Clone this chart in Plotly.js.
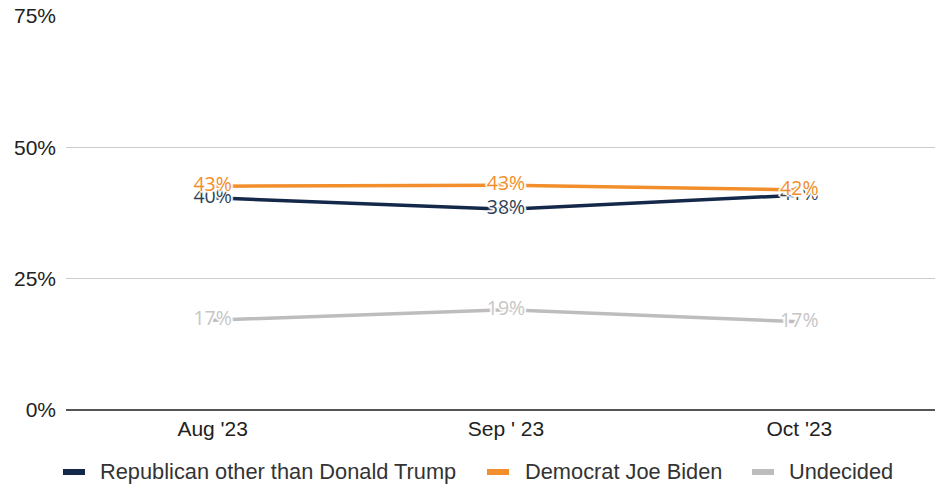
<!DOCTYPE html>
<html>
<head>
<meta charset="utf-8">
<script src="https://cdn.plot.ly/plotly-3.0.1.min.js"></script>
<style>
html,body{margin:0;padding:0;overflow:hidden;background:#fff;}
#chart{width:946px;height:484px;}
</style>
</head>
<body>
<div id="chart"></div>
<script>
const categories = ["Aug '23", "Sep ' 23", "Oct '23"];
const seriesNames = ["Republican other than Donald Trump", "Democrat Joe Biden", "Undecided"];
const republican = [40.4, 38.2, 40.9];
const democrat = [42.6, 42.8, 41.9];
const undecided = [17.1, 19.1, 16.8];
const republicanLabels = ["40%", "38%", "41%"];
const democratLabels = ["43%", "43%", "42%"];
const undecidedLabels = ["17%", "19%", "17%"];
const tickVals = [0, 25, 50, 75];
const tickText = ["0%", "25%", "50%", "75%"];

const colors = ["#14284a", "#f28e2b", "#bdbdbd"];
const textColors = ["#2f3f57", "#f28e2b", "#c6c6c6"];
const halo = Array(10).fill("0px 0px 2px #ffffff").join(", ") + ", 2px 0px 1px #fff, -2px 0px 1px #fff, 0px 2px 1px #fff, 0px -2px 1px #fff";

function mk(name, y, labels, i) {
  return {
    type: "scatter",
    mode: "lines+text",
    name: name,
    x: categories,
    y: y,
    text: labels,
    textposition: "middle center",
    textfont: {family: "Open Sans, Noto Sans, sans-serif", size: 19.5, color: textColors[i], shadow: halo},
    line: {color: colors[i], width: 3.5},
    hoverinfo: "skip",
    cliponaxis: false,
    showlegend: false
  };
}

const data = [
  mk(seriesNames[2], undecided, undecidedLabels, 2),
  mk(seriesNames[0], republican, republicanLabels, 0),
  mk(seriesNames[1], democrat, democratLabels, 1)
];

// plot area geometry for the custom legend (paper coordinates)
const M = {l: 66, r: 0, t: 16, b: 74}, W = 946, H = 484;
const pw = W - M.l - M.r, ph = H - M.t - M.b;
const px = v => (v - M.l) / pw;
const py = v => (H - M.b - v) / ph;

const legendItems = [
  {name: seriesNames[0], color: colors[0], sx: 63, tx: 98},
  {name: seriesNames[1], color: colors[1], sx: 487, tx: 523},
  {name: seriesNames[2], color: colors[2], sx: 752, tx: 787}
];
const legendY = 472;
const shapes = legendItems.map(it => ({
  type: "rect", xref: "paper", yref: "paper",
  x0: px(it.sx), x1: px(it.sx + 22), y0: py(legendY - 3), y1: py(legendY + 3),
  fillcolor: it.color, line: {width: 0}
}));
const annotations = legendItems.map(it => ({
  xref: "paper", yref: "paper", x: px(it.tx), y: py(legendY),
  xanchor: "left", yanchor: "middle", showarrow: false,
  text: it.name, font: {family: "Liberation Sans, Arial, sans-serif", size: 21.8, color: "#333"}
}));

const layout = {
  width: W,
  height: H,
  margin: M,
  paper_bgcolor: "#fff",
  plot_bgcolor: "#fff",
  font: {family: "Liberation Sans, Arial, sans-serif", size: 21, color: "#222"},
  showlegend: false,
  shapes: shapes,
  annotations: annotations,
  xaxis: {
    type: "category",
    range: [-0.5, 2.5],
    showgrid: false,
    zeroline: false,
    showline: false,
    ticks: "",
    automargin: false,
    ticklabelstandoff: 4,
    tickfont: {size: 21, color: "#222"}
  },
  yaxis: {
    range: [0, 75],
    tickvals: tickVals,
    ticktext: tickText,
    showgrid: true,
    gridcolor: "#cccccc",
    gridwidth: 1,
    zeroline: true,
    zerolinecolor: "#555",
    zerolinewidth: 2,
    showline: false,
    ticks: "",
    automargin: false,
    ticklabelstandoff: 9,
    tickfont: {size: 21, color: "#222"}
  }
};

Plotly.newPlot("chart", data, layout, {displayModeBar: false, staticPlot: true});
</script>
</body>
</html>
